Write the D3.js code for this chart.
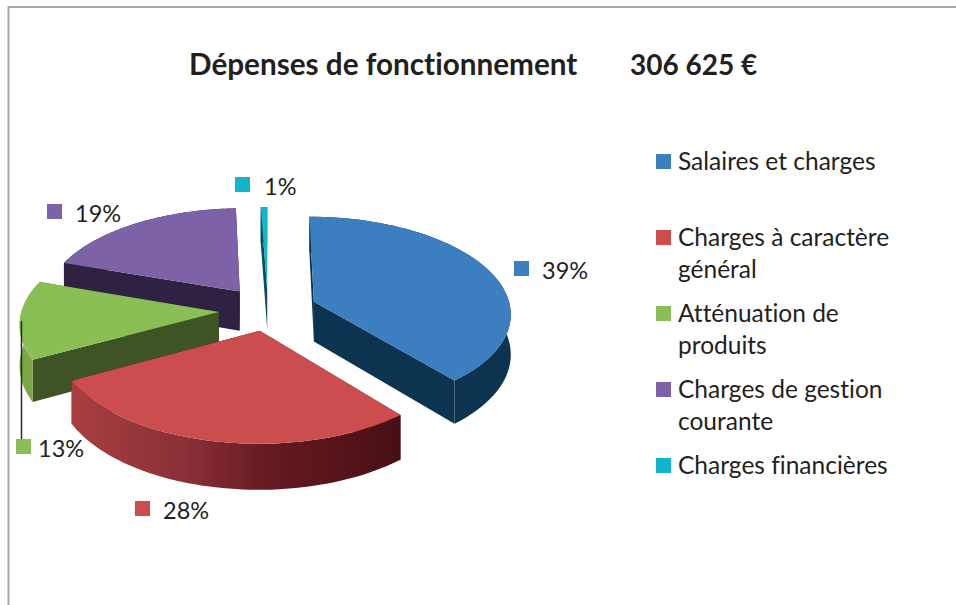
<!DOCTYPE html>
<html><head><meta charset="utf-8">
<script src="https://cdn.jsdelivr.net/npm/d3@7"></script>
<style>html,body{margin:0;padding:0;background:#fff}svg{display:block}text{font-family:Lato,"Open Sans",sans-serif;fill:#231f20;font-variant-ligatures:none}</style>
</head><body><script>
const categories=["Salaires et charges","Charges à caractère général","Atténuation de produits","Charges de gestion courante","Charges financières"];
const legendLines=[["Salaires et charges"],["Charges à caractère","général"],["Atténuation de","produits"],["Charges de gestion","courante"],["Charges financières"]];
const values=[38.9,28.3,13,19.2,0.6];
const labels=["39%","28%","13%","19%","1%"];
const topColors=["#3b7fc1","#cc4d4d","#8abf56","#7e62a8","#12b5cc"];
const sideColors=["#0c3350","#4d1015","#3f5424","#2e2142","#0e4a5c"];
const rimColors=["#0c3350","url(#redRim)","#7aa845","#2e2142","#0e4a5c"];
const drawOrder=[3,4,0,2,1];
const explodes=[0.25,0.215,0.25,0.245,0.21];
const W=956,H=605,cx=268,cy=310,Rx=197,Ry=96,k=0.108,depth=40;
const labelPos=[[514,261],[135,501],[16,439],[47,204],[235,177]];
const labelGap=[28,28,22,28,29];

const svg=d3.select("body").append("svg").attr("width",W).attr("height",H);
const g=svg.append("defs").append("linearGradient").attr("id","redRim").attr("gradientUnits","userSpaceOnUse")
 .attr("x1",71).attr("x2",400).attr("y1",0).attr("y2",0);
[[0,"#a83f40"],[0.35,"#8a3036"],[0.6,"#651a22"],[1,"#480f14"]].forEach(s=>g.append("stop").attr("offset",s[0]).attr("stop-color",s[1]));

svg.append("path").attr("d",`M${W},7H8.5V${H}`).attr("fill","none").attr("stroke","#a9a9a9").attr("stroke-width",2);

const title=svg.append("text").attr("y",75).attr("font-weight",700);
title.append("tspan").attr("x",189).attr("font-size",29.7).text("Dépenses de fonctionnement");
title.append("tspan").attr("x",630).attr("font-size",28).text("306 625 €");

const project=(u,v,z)=>{const s=1/(1-v*k);return [cx+u*s*Rx,cy+v*Ry*s+z*depth*s];};
const arcs=d3.pie().sort(null).startAngle(0).endAngle(2*Math.PI)(values);
const line=d3.line();

function geom(a,explode){
 const mid=(a.startAngle+a.endAngle)/2,ex=explode*Math.sin(mid),ey=-explode*Math.cos(mid);
 const pt=(t,r,z)=>project(ex+r*Math.sin(t),ey-r*Math.cos(t),z);
 const ts=d3.range(0,61).map(i=>a.startAngle+(a.endAngle-a.startAngle)*i/60);
 return {pt,ts};
}
const layer=svg.append("g");
drawOrder.forEach(i=>{
 const a=arcs[i],{pt,ts}=geom(a,explodes[i]),n=layer.append("g");
 const rimTop=ts.map(t=>pt(t,1,0)),rimBot=ts.map(t=>pt(t,1,1));
 const face=t=>[pt(t,0,0),pt(t,1,0),pt(t,1,1),pt(t,0,1)];
 n.append("path").attr("d",line(face(a.startAngle))+"Z").attr("fill",sideColors[i]);
 n.append("path").attr("d",line(face(a.endAngle))+"Z").attr("fill",sideColors[i]);
 n.append("path").attr("d",line(rimTop.concat(rimBot.slice().reverse()))+"Z").attr("fill",rimColors[i]);
 n.append("path").attr("d",line([pt(0,0,0)].concat(rimTop))+"Z").attr("fill",topColors[i]);
});

svg.append("path").attr("d",`M21.5,321V440`).attr("stroke","#2a2a2a").attr("stroke-width",1.5).attr("fill","none");

labels.forEach((t,i)=>{
 const [x,y]=labelPos[i];
 svg.append("rect").attr("x",x).attr("y",y).attr("width",15).attr("height",15).attr("fill",topColors[i]);
 svg.append("text").attr("x",x+labelGap[i]).attr("y",y+17.5).attr("font-size",23.5).text(t);
});

const legendY=[154,230,306,382,458];
legendLines.forEach((ls,i)=>{
 svg.append("rect").attr("x",656).attr("y",legendY[i]).attr("width",15).attr("height",15).attr("fill",topColors[i]);
 ls.forEach((s,j)=>svg.append("text").attr("x",678).attr("y",legendY[i]+16+j*32).attr("font-size",24.5).text(s));
});
</script></body></html>
